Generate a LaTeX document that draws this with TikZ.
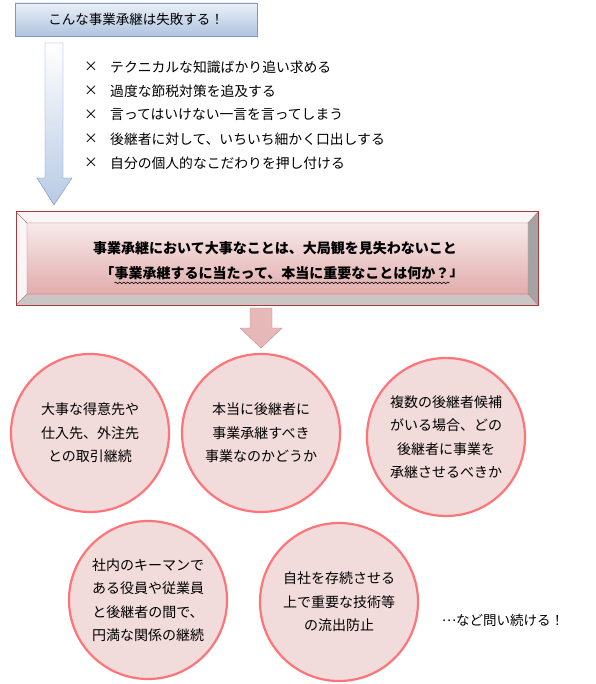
\documentclass[tikz,border=0pt]{standalone}
\usepackage{fontspec}
\setmainfont{Noto Sans CJK JP}
\usetikzlibrary{positioning}
\usetikzlibrary{decorations.pathmorphing}

\definecolor{headtop}{HTML}{EAF0F8}
\definecolor{headbottom}{HTML}{AFC3DF}
\definecolor{headline}{HTML}{8197BD}
\definecolor{arrowblue}{HTML}{6F8EC0}
\definecolor{arrowfill}{HTML}{B7CAE5}
\definecolor{boxline}{HTML}{A63A3C}
\definecolor{boxtop}{HTML}{F7EAEA}
\definecolor{boxbottom}{HTML}{E2ACAC}
\definecolor{bevellight}{HTML}{FCF5F5}
\definecolor{bevelright}{HTML}{A3A3A3}
\definecolor{bevelbottom}{HTML}{CBC6C6}
\definecolor{pinkfill}{HTML}{E6B9B8}
\definecolor{pinkline}{HTML}{C98585}
\definecolor{circlefill}{HTML}{F2DCDB}
\definecolor{circleline}{HTML}{FF7478}

\tikzset{
  issue/.style = {circle, draw = circleline, line width = 2.2pt,
    fill = circlefill, minimum size = 158pt, inner sep = 0pt, align = center,
    font = \fontsize{14}{23.5}\selectfont},
  mistake/.style = {anchor = west, inner sep = 0pt,
    font = \fontsize{13.8}{13.8}\selectfont},
  core/.style = {inner sep = 0pt, font = \bfseries\fontsize{14}{14}\selectfont}
}

\begin{document}
\begin{tikzpicture}[x = 1pt, y = -1pt]
  \useasboundingbox (0, 0) rectangle (595, 684);

  \node[draw = headline, top color = headtop, bottom color = headbottom,
  minimum width = 242pt, minimum height = 33pt, inner sep = 0pt,
  font = \fontsize{13.5}{13.5}\selectfont] (fail) at (136, 19.5)
  {こんな事業承継は失敗する！};

  \draw[arrowblue, top color = white, bottom color = arrowfill]
  (45, 43) -- (63, 43) -- (63, 178) -- (72, 178) -- (54, 205) -- (37, 178)
  -- (45, 178) -- cycle;

  \foreach \y/\txt [count = \i] in {67/テクニカルな知識ばかり追い求める,
    91/過度な節税対策を追及する, 115/言ってはいけない一言を言ってしまう,
    139/後継者に対して、いちいち細かく口出しする,
    163/自分の個人的なこだわりを押し付ける} {
    \node[mistake] (x\i) at (84, \y) {×};
    \node[mistake] (m\i) at (110, \y) {\txt};
  }

  \fill[bevellight] (16, 212) -- (538, 212) -- (528, 223) -- (27, 223) -- cycle;
  \fill[bevellight] (16, 212) -- (27, 223) -- (27, 294) -- (16, 305) -- cycle;
  \fill[bevelright] (538, 212) -- (538, 305) -- (528, 294) -- (528, 223) -- cycle;
  \fill[bevelbottom] (16, 305) -- (538, 305) -- (528, 294) -- (27, 294) -- cycle;
  \shade[top color = boxtop, bottom color = boxbottom] (27, 223) rectangle (528, 294);
  \draw[boxline!70, line width = 0.4pt] (27, 223) rectangle (528, 294)
  (16, 212) -- (27, 223) (538, 212) -- (528, 223) (16, 305) -- (27, 294)
  (538, 305) -- (528, 294);
  \draw[boxline, line width = 1pt] (16, 212) rectangle (538, 305);

  \node[core] (point) at (275, 248)
  {事業承継において大事なことは、大局観を見失わないこと};
  \node[core] (ask) at (282, 273)
  {事業承継するに当たって、本当に重要なことは何か？};
  \node[core, left = 0pt of ask] (open) {「};
  \node[core, right = 0pt of ask] (close) {」};
  \draw[decorate, decoration = {snake, amplitude = 0.8pt, segment length = 4pt},
  line width = 0.6pt] ([yshift = -3pt] ask.south west)
  -- ([yshift = -3pt] ask.south east);

  \draw[pinkline, fill = pinkfill]
  (250, 308) -- (272, 308) -- (272, 328) -- (282, 328) -- (261, 348)
  -- (240, 328) -- (250, 328) -- cycle;

  \node[issue] (client) at (90, 433) {大事な得意先や\\仕入先、外注先\\との取引継続};
  \node[issue] (whether) at (261, 433) {本当に後継者に\\事業承継すべき\\事業なのかどうか};
  \node[issue] (choice) at (446, 437)
  {複数の後継者候補\\がいる場合、どの\\後継者に事業を\\承継させるべきか};
  \node[issue] (staff) at (148, 600)
  {社内のキーマンで\\ある役員や従業員\\と後継者の間で、\\円満な関係の継続};
  \node[issue] (tech) at (339, 602) {自社を存続させる\\上で重要な技術等\\の流出防止};

  \node[inner sep = 0pt, font = \fontsize{13.5}{13.5}\selectfont] (more)
  at (503, 620) {\raisebox{0.45ex}{…}など問い続ける！};
\end{tikzpicture}
\end{document}
